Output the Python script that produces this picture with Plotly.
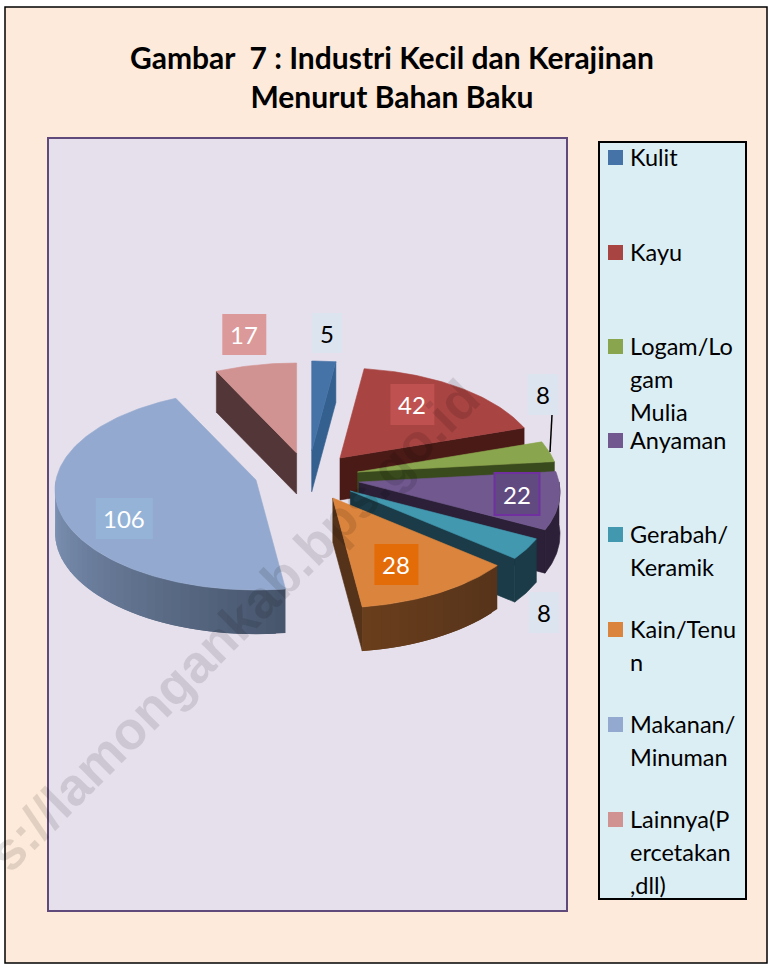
import numpy as np
import plotly.graph_objects as go

# ---------- data ----------
categories = ["Kulit", "Kayu", "Logam/Logam Mulia", "Anyaman", "Gerabah/Keramik",
              "Kain/Tenun", "Makanan/Minuman", "Lainnya(Percetakan,dll)"]
values = [5, 42, 8, 22, 8, 28, 106, 17]
legend_lines = [["Kulit"], ["Kayu"], ["Logam/Lo", "gam", "Mulia"], ["Anyaman"],
                ["Gerabah/", "Keramik"], ["Kain/Tenu", "n"], ["Makanan/", "Minuman"],
                ["Lainnya(P", "ercetakan", ",dll)"]]
title_text = "Gambar  7 : Industri Kecil dan Kerajinan<br>Menurut Bahan Baku"
watermark = "s://lamongankab.bps.go.id"

# ---------- styles and layout ----------
W, H = 769, 964
FONT = "Lato"
top_colors = ["#4572a7", "#a84442", "#89a54e", "#71588f", "#4198af", "#db843d", "#93a9cf", "#d19392"]
side_light = ["#34608f", "#4a1a17", "#394a1c", "#2b2038", "#1a3b47", "#6a3e1c", "#8298bb", "#533637"]
side_dark = ["#34608f", "#4a1a17", "#394a1c", "#2b2038", "#1a3b47", "#55331a", "#47556c", "#533637"]
# explosion: where each slice's tip lands, in page pixels
tips = [(311.7, 451), (340, 458), (357.6, 472), (359, 482), (350.3, 491), (332.8, 498), (256, 480), (296.6, 453)]
draw_order = [0, 7, 1, 2, 3, 4, 5, 6]
RX, RY, PERSP = 200.0, 99.0, 0.1
label_boxes = [  # centre x, centre y, width, height, background, text colour
    (327, 333, 30, 40, "#dbe4ef", "black"),
    (412.4, 404.5, 44, 41, "#bf5250", "white"),
    (542.8, 394.5, 31, 41, "#dbe4ef", "black"),
    (517, 494, 45, 42, "#614a80", "white"),
    (544, 612.5, 30, 41, "#dbe4ef", "black"),
    (396.4, 564.5, 44, 41, "#e36c09", "white"),
    (124.3, 518.5, 57, 41, "#95b3d7", "white"),
    (244.3, 334.5, 44, 41, "#dc9999", "white"),
]
legend_swatch_y = [157.5, 252.5, 346.5, 440.5, 534.5, 629.5, 724.5, 819.5]
LINE_H = 33


def project(tip, theta_deg):
    t = np.radians(theta_deg)
    c = np.cos(t)
    s = 1 / (1 + PERSP * c)
    return tip[0] + RX * np.sin(t) * s, tip[1] - RY * c * s


def depth(theta_deg):
    return 42.5 - 1.7 * np.cos(np.radians(theta_deg))


def lerp_color(a, b, f):
    ca = np.array([int(a[i:i + 2], 16) for i in (1, 3, 5)], float)
    cb = np.array([int(b[i:i + 2], 16) for i in (1, 3, 5)], float)
    c = ca + (cb - ca) * f
    return "#%02x%02x%02x" % tuple(int(round(v)) for v in c)


fig = go.Figure()


def poly(xs, ys, color, name, lw=0.6):
    fig.add_trace(go.Scatter(x=list(xs) + [xs[0]], y=list(ys) + [ys[0]], mode="lines", fill="toself",
                             fillcolor=color, line=dict(color=color, width=lw), name=name,
                             hoverinfo="name", showlegend=False))


edges = np.concatenate([[0], np.cumsum(values)]) / sum(values) * 360.0

for i in draw_order:
    a0, a1 = edges[i], edges[i + 1]
    tip = tips[i]
    name = f"{categories[i]}: {values[i]}"
    # radial cut faces that look towards the viewer
    for ang, visible in ((a0, np.sin(np.radians(a0)) < -1e-6), (a1, np.sin(np.radians(a1)) > 1e-6)):
        if visible:
            px, py = project(tip, ang)
            d = depth(ang)
            col = side_dark[i] if ang == a1 else side_light[i]
            poly([tip[0], px, px, tip[0]], [tip[1], py, py + d, tip[1] + d], col, name)
    # outer rim, front half only
    r0, r1 = max(a0, 90.0), min(a1, 270.0)
    if r1 > r0:
        if side_light[i] == side_dark[i]:
            steps = np.linspace(r0, r1, max(2, int(r1 - r0) + 2))
            top = [project(tip, t) for t in steps]
            bottom = [(p[0], p[1] + depth(t)) for p, t in zip(top, steps)][::-1]
            outline = top + bottom
            poly([p[0] for p in outline], [p[1] for p in outline], side_dark[i], name)
        else:
            # shaded in overlapping strips
            steps = np.linspace(r0, r1, max(2, int((r1 - r0) / 2.5) + 1))
            for k, (u, v) in enumerate(zip(steps[:-1], steps[1:])):
                ux, uy = project(tip, u)
                w = steps[min(k + 2, len(steps) - 1)]
                vx, vy = project(tip, w)
                f = ((u + v) / 2 - r0) / (r1 - r0)
                col = lerp_color(side_dark[i], side_light[i], f)
                poly([ux, vx, vx, ux], [uy, vy, vy + depth(w), uy + depth(u)], col, name, lw=0)
    # top face
    th = np.linspace(a0, a1, max(3, int(a1 - a0) + 2))
    pts = [project(tip, t) for t in th]
    poly([tip[0]] + [p[0] for p in pts], [tip[1]] + [p[1] for p in pts], top_colors[i], name)

shapes = [
    dict(type="rect", x0=5, y0=7, x1=767, y1=963, fillcolor="#fdeada", line=dict(color="black", width=1.5), layer="below"),
    dict(type="rect", x0=48, y0=138, x1=567, y1=911, fillcolor="#e6e0ec", line=dict(color="#604a7b", width=2), layer="below"),
    dict(type="rect", x0=599, y0=142, x1=746, y1=899, fillcolor="#dbeef4", line=dict(color="black", width=2), layer="below"),
    dict(type="line", x0=552, y0=415, x1=550, y1=452, line=dict(color="black", width=1.5)),
]

for i, y in enumerate(legend_swatch_y):
    shapes.append(dict(type="rect", x0=608, x1=623, y0=y - 7.5, y1=y + 7.5, fillcolor=top_colors[i], line=dict(width=0), layer="above"))

annotations = [
    dict(x=392, y=76.5, text=title_text, showarrow=False, xanchor="center", yanchor="middle", align="center",
         font=dict(family=FONT, size=30, color="black", weight="bold"), xref="x", yref="y"),
]
for v, (cx, cy, w, h, bg, fg) in zip(values, label_boxes):
    shapes.append(dict(type="rect", x0=cx - w / 2, x1=cx + w / 2, y0=cy - h / 2, y1=cy + h / 2, fillcolor=bg,
                       line=dict(color="#7030a0", width=2) if v == 22 else dict(width=0), layer="above"))
    annotations.append(dict(x=cx, y=cy, text=str(v), showarrow=False, xanchor="center", yanchor="middle",
                            font=dict(family=FONT, size=24, color=fg)))
for lines, y in zip(legend_lines, legend_swatch_y):
    for k, line in enumerate(lines):
        annotations.append(dict(x=627.5, y=y - 1 + k * LINE_H, text=line, showarrow=False, xanchor="left", yanchor="middle",
                                font=dict(family=FONT, size=23.5, color="black")))
annotations.append(dict(x=233, y=625, text=watermark, showarrow=False, textangle=-45, xanchor="center", yanchor="middle",
                        font=dict(family="Liberation Sans", size=53, color="rgba(0,0,0,0.11)", weight="bold")))

fig.update_layout(
    width=W, height=H, margin=dict(l=0, r=0, t=0, b=0), paper_bgcolor="white", plot_bgcolor="rgba(0,0,0,0)",
    xaxis=dict(range=[0, W], visible=False, fixedrange=True),
    yaxis=dict(range=[H, 0], visible=False, fixedrange=True),
    shapes=shapes, annotations=annotations, showlegend=False,
)
fig.write_html("out.html", config={"displayModeBar": False},
               post_script="document.body.style.margin='0';")
